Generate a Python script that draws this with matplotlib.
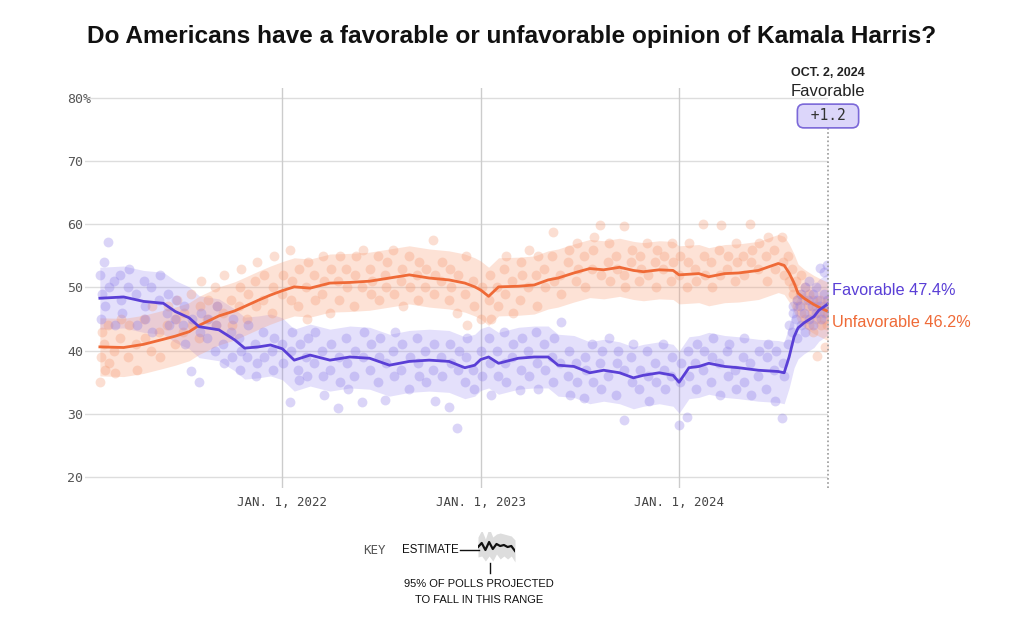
import numpy as np
import matplotlib
matplotlib.use("Agg")
import matplotlib.pyplot as plt
from matplotlib.lines import Line2D

# ESTIMATE LINES (decimal years)
est_dates = [2021.08, 2021.20, 2021.30, 2021.40, 2021.46, 2021.53, 2021.58, 2021.68, 2021.76, 2021.81,
             2021.88, 2021.94, 2022.00, 2022.06, 2022.14, 2022.24, 2022.34, 2022.44, 2022.54, 2022.64,
             2022.74, 2022.84, 2022.92, 2022.97, 2023.00, 2023.04, 2023.09, 2023.19, 2023.27, 2023.34,
             2023.39, 2023.47, 2023.55, 2023.62, 2023.70, 2023.77, 2023.82, 2023.90, 2023.97, 2024.00,
             2024.05, 2024.10, 2024.15, 2024.23, 2024.30, 2024.40, 2024.50, 2024.53, 2024.555, 2024.58,
             2024.60, 2024.63, 2024.68, 2024.705, 2024.751]
fav_est = [48.3, 48.5, 47.8, 47.5, 46.2, 45.2, 43.8, 43.3, 41.7, 40.4,
           40.6, 40.9, 40.3, 38.5, 39.3, 38.5, 39.0, 38.8, 37.7, 38.3,
           38.5, 38.3, 37.3, 37.7, 38.6, 39.0, 38.0, 38.8, 39.0, 39.0,
           37.7, 37.5, 36.5, 36.9, 36.5, 35.7, 36.1, 36.5, 36.1, 35.0,
           37.3, 37.5, 38.0, 37.5, 37.3, 36.9, 36.7, 36.5, 39.0, 42.2,
           43.6, 44.4, 45.4, 46.4, 47.4]
unf_est = [40.6, 40.5, 41.0, 41.8, 42.3, 43.0, 44.0, 45.5, 46.3, 47.0,
           48.0, 48.8, 49.5, 50.1, 49.9, 50.7, 50.8, 51.0, 51.5, 52.0,
           51.5, 51.2, 50.7, 50.1, 49.6, 48.6, 50.1, 50.2, 50.4, 51.2,
           51.5, 52.3, 53.0, 52.8, 53.2, 52.7, 52.5, 52.8, 52.7, 52.0,
           52.1, 52.2, 51.7, 52.2, 52.3, 52.7, 53.8, 53.5, 52.3, 50.7,
           49.1, 48.3, 47.3, 46.9, 46.2]
fav_spread = 4.9
unf_spread = 4.6

# POLLS
fav_poll_dates = [2021.08, 2021.085, 2021.09, 2021.10, 2021.105, 2021.12, 2021.125, 2021.15, 2021.155,
                  2021.18, 2021.185, 2021.19, 2021.22, 2021.225, 2021.26, 2021.265, 2021.30, 2021.305,
                  2021.31, 2021.34, 2021.345, 2021.38, 2021.385, 2021.42, 2021.425, 2021.43, 2021.46,
                  2021.465, 2021.50, 2021.505, 2021.51, 2021.54, 2021.545, 2021.58, 2021.585, 2021.59,
                  2021.62, 2021.625, 2021.66, 2021.665, 2021.67, 2021.70, 2021.705, 2021.74, 2021.745,
                  2021.75, 2021.78, 2021.785, 2021.79, 2021.82, 2021.825, 2021.86, 2021.865, 2021.87,
                  2021.90, 2021.905, 2021.95, 2021.955, 2021.96, 2022.00, 2022.005, 2022.04, 2022.045,
                  2022.05, 2022.08, 2022.085, 2022.09, 2022.12, 2022.125, 2022.13, 2022.16, 2022.165,
                  2022.20, 2022.205, 2022.21, 2022.24, 2022.245, 2022.28, 2022.285, 2022.29, 2022.32,
                  2022.325, 2022.33, 2022.36, 2022.365, 2022.40, 2022.405, 2022.41, 2022.44, 2022.445,
                  2022.48, 2022.485, 2022.49, 2022.52, 2022.525, 2022.56, 2022.565, 2022.57, 2022.60,
                  2022.605, 2022.64, 2022.645, 2022.68, 2022.685, 2022.69, 2022.72, 2022.725, 2022.76,
                  2022.765, 2022.77, 2022.80, 2022.805, 2022.84, 2022.845, 2022.85, 2022.88, 2022.885,
                  2022.89, 2022.92, 2022.925, 2022.93, 2022.96, 2022.965, 2023.00, 2023.005, 2023.04,
                  2023.045, 2023.05, 2023.08, 2023.085, 2023.12, 2023.125, 2023.13, 2023.16, 2023.165,
                  2023.20, 2023.205, 2023.21, 2023.24, 2023.245, 2023.28, 2023.285, 2023.29, 2023.32,
                  2023.325, 2023.36, 2023.365, 2023.37, 2023.40, 2023.405, 2023.44, 2023.445, 2023.45,
                  2023.48, 2023.485, 2023.52, 2023.525, 2023.53, 2023.56, 2023.565, 2023.60, 2023.605,
                  2023.61, 2023.64, 2023.645, 2023.68, 2023.685, 2023.69, 2023.72, 2023.725, 2023.76,
                  2023.765, 2023.77, 2023.80, 2023.805, 2023.84, 2023.845, 2023.85, 2023.88, 2023.885,
                  2023.92, 2023.925, 2023.93, 2023.96, 2023.965, 2024.00, 2024.005, 2024.01, 2024.04,
                  2024.045, 2024.05, 2024.08, 2024.085, 2024.09, 2024.12, 2024.125, 2024.16, 2024.165,
                  2024.17, 2024.20, 2024.205, 2024.24, 2024.245, 2024.25, 2024.28, 2024.285, 2024.32,
                  2024.325, 2024.33, 2024.36, 2024.365, 2024.40, 2024.405, 2024.44, 2024.445, 2024.45,
                  2024.48, 2024.485, 2024.49, 2024.52, 2024.525, 2024.53, 2024.55, 2024.555, 2024.57,
                  2024.573, 2024.576, 2024.59, 2024.593, 2024.596, 2024.61, 2024.613, 2024.616, 2024.63,
                  2024.633, 2024.636, 2024.65, 2024.653, 2024.656, 2024.67, 2024.673, 2024.676, 2024.69,
                  2024.693, 2024.696, 2024.71, 2024.713, 2024.716, 2024.73, 2024.733, 2024.736, 2024.745,
                  2024.747, 2024.749]
fav_poll_vals = [52, 45, 49, 54, 47, 57.2, 50, 51, 44,
                 52, 48, 46, 50, 53, 49, 44, 51, 47,
                 45, 50, 43, 48, 52, 46, 49, 44, 45,
                 48, 44, 47, 41, 36.8, 45, 35.0, 43, 46,
                 42, 45, 40, 44, 47, 41, 38, 43, 39,
                 45, 42, 37, 40, 39, 44, 41, 36, 38,
                 43, 39, 40, 37, 42, 41, 38, 31.9, 40,
                 43, 37, 35.4, 41, 39, 36, 42, 38, 43,
                 40, 36, 33, 37, 41, 30.9, 39, 35, 42,
                 38, 33.9, 36, 40, 31.9, 39, 43, 37, 41,
                 35, 39, 42, 32.2, 38, 40, 36, 43, 37,
                 41, 34, 39, 42, 38, 36, 40, 35, 37,
                 41, 32, 39, 36, 31.1, 41, 38, 27.8, 37,
                 40, 35, 39, 42, 37, 34, 40, 36, 42,
                 38, 33, 40, 36, 43, 38, 35, 39, 41,
                 33.8, 37, 42, 40, 36, 43, 38, 34, 41,
                 37, 39, 35, 42, 38, 44.5, 36, 40, 33,
                 38, 35, 32.5, 39, 37, 41, 35, 38, 34,
                 40, 36, 42, 33, 38, 40, 29.0, 37, 39,
                 35, 41, 34, 37, 40, 36, 32, 38, 35,
                 41, 37, 34, 36, 39, 28.2, 35, 38, 29.5,
                 40, 36, 38, 34, 41, 37, 40, 35, 39,
                 42, 38, 33, 40, 36, 41, 37, 34, 39,
                 42, 35, 38, 33, 36, 40, 34, 39, 41,
                 37, 32, 40, 29.3, 38, 36, 41, 44, 43,
                 46, 47, 45, 48, 42, 47, 44, 49, 46,
                 50, 43, 48, 45, 51, 47, 49, 44, 50,
                 46, 48, 53.1, 47, 45, 52.5, 49, 46, 53.6,
                 48, 47]

unf_poll_dates = [2021.08, 2021.085, 2021.09, 2021.10, 2021.105, 2021.12, 2021.125, 2021.15, 2021.155,
                  2021.18, 2021.185, 2021.22, 2021.225, 2021.26, 2021.265, 2021.30, 2021.305, 2021.34,
                  2021.345, 2021.38, 2021.385, 2021.42, 2021.425, 2021.46, 2021.465, 2021.47, 2021.50,
                  2021.505, 2021.54, 2021.545, 2021.58, 2021.585, 2021.59, 2021.62, 2021.625, 2021.66,
                  2021.665, 2021.67, 2021.70, 2021.705, 2021.74, 2021.745, 2021.78, 2021.785, 2021.79,
                  2021.82, 2021.825, 2021.86, 2021.865, 2021.87, 2021.90, 2021.905, 2021.95, 2021.955,
                  2021.96, 2022.00, 2022.005, 2022.04, 2022.045, 2022.05, 2022.08, 2022.085, 2022.12,
                  2022.125, 2022.13, 2022.16, 2022.165, 2022.20, 2022.205, 2022.21, 2022.24, 2022.245,
                  2022.28, 2022.285, 2022.29, 2022.32, 2022.325, 2022.36, 2022.365, 2022.37, 2022.40,
                  2022.405, 2022.44, 2022.445, 2022.45, 2022.48, 2022.485, 2022.52, 2022.525, 2022.53,
                  2022.56, 2022.565, 2022.60, 2022.605, 2022.61, 2022.64, 2022.645, 2022.68, 2022.685,
                  2022.69, 2022.72, 2022.725, 2022.76, 2022.765, 2022.77, 2022.80, 2022.805, 2022.84,
                  2022.845, 2022.85, 2022.88, 2022.885, 2022.92, 2022.925, 2022.93, 2022.96, 2022.965,
                  2023.00, 2023.005, 2023.04, 2023.045, 2023.05, 2023.08, 2023.085, 2023.12, 2023.125,
                  2023.13, 2023.16, 2023.165, 2023.20, 2023.205, 2023.21, 2023.24, 2023.245, 2023.28,
                  2023.285, 2023.29, 2023.32, 2023.325, 2023.36, 2023.365, 2023.37, 2023.40, 2023.405,
                  2023.44, 2023.445, 2023.48, 2023.485, 2023.49, 2023.52, 2023.525, 2023.56, 2023.565,
                  2023.57, 2023.60, 2023.605, 2023.64, 2023.645, 2023.65, 2023.68, 2023.685, 2023.72,
                  2023.725, 2023.73, 2023.76, 2023.765, 2023.80, 2023.805, 2023.81, 2023.84, 2023.845,
                  2023.88, 2023.885, 2023.89, 2023.92, 2023.925, 2023.96, 2023.965, 2023.97, 2024.00,
                  2024.005, 2024.04, 2024.045, 2024.05, 2024.08, 2024.085, 2024.12, 2024.125, 2024.13,
                  2024.16, 2024.165, 2024.20, 2024.205, 2024.21, 2024.24, 2024.245, 2024.28, 2024.285,
                  2024.29, 2024.32, 2024.325, 2024.36, 2024.365, 2024.37, 2024.40, 2024.405, 2024.44,
                  2024.445, 2024.45, 2024.48, 2024.485, 2024.52, 2024.525, 2024.53, 2024.55, 2024.555,
                  2024.57, 2024.573, 2024.576, 2024.59, 2024.593, 2024.596, 2024.61, 2024.613, 2024.616,
                  2024.63, 2024.633, 2024.636, 2024.65, 2024.653, 2024.656, 2024.67, 2024.673, 2024.676,
                  2024.69, 2024.693, 2024.696, 2024.71, 2024.713, 2024.716, 2024.73, 2024.733, 2024.736,
                  2024.745, 2024.747, 2024.749]
unf_poll_vals = [35.0, 39, 43, 41, 37, 44, 38, 40, 36.5,
                 42, 45, 39, 44, 41, 37, 45, 42, 40,
                 47, 43, 39, 44, 47, 41, 45, 48, 43,
                 46, 49, 44, 42, 47, 51, 45, 48, 50,
                 44, 47, 46, 52, 48, 44, 47, 50, 53,
                 45, 49, 51, 47, 54, 48, 52, 46, 50,
                 55, 49, 52, 56.0, 48, 51, 47, 53, 50,
                 45, 54, 52, 48, 49, 55, 51, 46, 53,
                 51, 48, 55, 53, 50, 47, 52, 55, 50,
                 56, 53, 49, 51, 55, 48, 52, 50, 54,
                 56, 49, 51, 53, 47, 55, 50, 52, 48,
                 54, 50, 53, 57.5, 49, 52, 51, 54, 48,
                 53, 50, 46, 52, 49, 55, 44, 51, 47,
                 45, 50, 48, 52, 45, 50, 47, 53, 49,
                 55, 51, 46, 48, 54, 52, 50, 56, 52,
                 47, 55, 53, 50, 55, 58.8, 51, 52, 49,
                 54, 56, 51, 57, 53, 55, 50, 53, 56,
                 58, 59.9, 52, 54, 57, 51, 55, 53, 59.7,
                 52, 50, 54, 56, 51, 55, 53, 57, 52,
                 54, 50, 56, 53, 55, 51, 57, 54, 52,
                 55, 50, 54, 57, 53, 51, 60.0, 55, 52,
                 54, 50, 56, 52, 59.9, 53, 55, 51, 57,
                 54, 55, 52, 60.0, 54, 56, 53, 57, 55,
                 51, 58, 56, 53, 58, 54, 52, 55, 51,
                 53, 49, 50, 51, 47, 48, 49, 46, 52,
                 48, 45, 50, 47, 44, 49, 46, 48, 43,
                 47, 45, 39.2, 46, 48, 44, 45, 47, 40.6,
                 46, 44, 48]

# KEY
key_x = [0, 1, 2, 3, 4, 5, 6, 7, 8, 9, 10]
key_mid = [0.0, 0.4, -0.3, 0.5, -0.2, 0.3, 0.1, 0.2, 0.0, 0.1, -0.4]
key_half = [1.0, 1.3, 1.1, 1.4, 1.2, 1.0, 1.3, 1.1, 1.2, 1.0, 1.1]

year_ticks = [2022, 2023, 2024]
year_labels = ["JAN. 1, 2022", "JAN. 1, 2023", "JAN. 1, 2024"]
y_ticks = [20, 30, 40, 50, 60, 70, 80]
y_labels = ["20", "30", "40", "50", "60", "70", "80%"]

FAV = "#5a3fd6"
UNF = "#ef6a37"
W, H = 1024, 627


def px(x, y):
    return x / W, 1 - y / H


fig = plt.figure(figsize=(W / 100, H / 100), dpi=100)
ax = fig.add_axes([85 / W, 1 - 488 / H, 743 / W, 400 / H])

ax.fill_between(est_dates, np.array(fav_est) - fav_spread, np.array(fav_est) + fav_spread,
                color="#8f7ff0", alpha=0.24, lw=0)
ax.fill_between(est_dates, np.array(unf_est) - unf_spread, np.array(unf_est) + unf_spread,
                color="#f9a07a", alpha=0.3, lw=0)
ax.scatter(unf_poll_dates, unf_poll_vals, s=50, color="#f59a73", alpha=0.32, lw=0)
ax.scatter(fav_poll_dates, fav_poll_vals, s=50, color="#8c7ce8", alpha=0.32, lw=0)
ax.plot(est_dates, unf_est, color=UNF, lw=2.0)
ax.plot(est_dates, fav_est, color=FAV, lw=2.0)

ax.set_xlim(2021.005, 2024.751)
ax.set_ylim(18.26, 81.58)
ax.set_yticks(y_ticks)
ax.set_yticklabels(y_labels, family="DejaVu Sans Mono", fontsize=9.5, color="#555555")
ax.set_xticks(year_ticks)
ax.set_xticklabels(year_labels, family="DejaVu Sans Mono", fontsize=9, color="#444444")
ax.tick_params(axis="y", length=0, pad=13)
ax.tick_params(axis="x", length=0, pad=6)
for lbl in ax.get_yticklabels():
    lbl.set_ha("left")
for s in ax.spines.values():
    s.set_visible(False)
for t in y_ticks:
    ax.axhline(t, color="#dddddd", lw=1, zorder=0)
for t in year_ticks:
    ax.axvline(t, color="#cccccc", lw=1, zorder=0)

# right side annotation
ax.axvline(2024.751, ymin=0, ymax=(76.6 - 18.26) / (81.58 - 18.26), color="#999999",
           lw=1.2, ls=(0, (1, 1.5)), clip_on=False)
fig.text(*px(828, 73), "OCT. 2, 2024", ha="center", va="center", fontsize=9,
         fontweight="bold", color="#222222", family="Liberation Sans")
fig.text(*px(828, 92), "Favorable", ha="center", va="center", fontsize=12,
         color="#222222", family="Liberation Sans")
fig.text(*px(828, 116), " +1.2 ", ha="center", va="center", fontsize=10.5, color="#333333",
         family="DejaVu Sans Mono",
         bbox=dict(boxstyle="round,pad=0.3,rounding_size=0.45", fc="#dcd6fa", ec="#7b68d8",
                   lw=1.2))
ax.annotate("Favorable 47.4%", xy=(2024.751, fav_est[-1]), xytext=(3, 9.4),
            textcoords="offset points", ha="left", va="center", fontsize=11.7, color=FAV,
            family="Liberation Sans", annotation_clip=False)
ax.annotate("Unfavorable 46.2%", xy=(2024.751, unf_est[-1]), xytext=(3, -7.6),
            textcoords="offset points", ha="left", va="center", fontsize=11.7, color=UNF,
            family="Liberation Sans", annotation_clip=False)

fig.text(*px(512, 37), "Do Americans have a favorable or unfavorable opinion of Kamala Harris?",
         ha="center", va="center", fontsize=17.6, fontweight="bold", color="#111111",
         family="Liberation Sans")

# KEY
fig.text(*px(374, 550), "KEY", ha="center", va="center", fontsize=9, color="#555555",
         family="DejaVu Sans Mono")
fig.text(*px(430, 550), "ESTIMATE", ha="center", va="center", fontsize=8.3, color="#111111",
         family="Liberation Sans")
fig.add_artist(Line2D([460 / W, 479 / W], [1 - 550 / H, 1 - 550 / H], color="#111111", lw=1))
fig.add_artist(Line2D([490 / W, 490 / W], [1 - 563 / H, 1 - 573 / H], color="#111111", lw=1))
kax = fig.add_axes([478 / W, 1 - 562 / H, 37 / W, 30 / H])
kax.fill_between(key_x, np.array(key_mid) - np.array(key_half),
                 np.array(key_mid) + np.array(key_half), color="#dddddd", lw=0)
kax.plot(key_x, key_mid, color="#111111", lw=1.6)
kax.set_xlim(0, 10)
kax.set_ylim(-1.5, 1.5)
kax.axis("off")
fig.text(*px(479, 584), "95% OF POLLS PROJECTED", ha="center", va="center", fontsize=8,
         color="#111111", family="Liberation Sans")
fig.text(*px(479, 600), "TO FALL IN THIS RANGE", ha="center", va="center", fontsize=8,
         color="#111111", family="Liberation Sans")

fig.savefig("out.png", dpi=100)
